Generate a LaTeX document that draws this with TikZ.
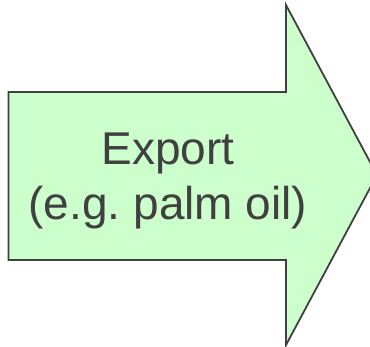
\documentclass[tikz,border=0pt]{standalone}
\usepackage{fontspec}
\setmainfont{Liberation Sans}
\frenchspacing
\definecolor{arrowfill}{HTML}{CCFFCC}
\definecolor{arrowline}{HTML}{404040}
\definecolor{textgray}{HTML}{404040}
\begin{document}
\begin{tikzpicture}[x=1pt,y=1pt,
  bigarrow/.style={fill=arrowfill,draw=arrowline,line width=1.8pt,line join=miter},
  label/.style={font=\fontsize{46}{55}\selectfont,text=textgray,align=center,inner sep=0pt}]
\useasboundingbox (0,0) rectangle (370,346);
\clip (0,0) rectangle (370,346);
\coordinate (p1) at (8.5,254);
\coordinate (p2) at (286,254);
\coordinate (p3) at (286,341);
\coordinate (tip) at (377,171);
\coordinate (p5) at (286,1);
\coordinate (p6) at (286,86);
\coordinate (p7) at (8.5,86);
\draw[bigarrow] (p1) -- (p2) -- (p3) -- (tip) -- (p5) -- (p6) -- (p7) -- cycle;
\node[label] (txt) at (168,164.6) {Export\\(e.g. palm oil)};
\end{tikzpicture}
\end{document}
